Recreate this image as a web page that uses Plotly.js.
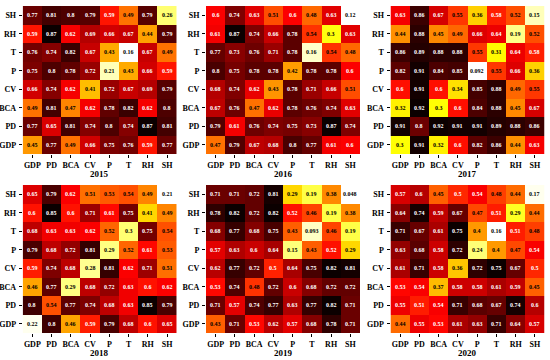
<!DOCTYPE html>
<html><head><meta charset="utf-8">
<script src="https://cdn.plot.ly/plotly-3.0.1.min.js"></script>
<style>html,body{margin:0;padding:0;background:#fff}#chart{width:550px;height:360px}</style>
</head><body><div id="chart"></div>
<script>
const cols = ['GDP','PD','BCA','CV','P','T','RH','SH'];
const rows = ['SH','RH','T','P','CV','BCA','PD','GDP'];
const years = ['2015','2016','2017','2018','2019','2020'];

const z2015 = [
 [0.77,0.81,0.8,0.79,0.59,0.49,0.79,0.26],
 [0.59,0.87,0.62,0.69,0.66,0.67,0.44,0.79],
 [0.76,0.74,0.82,0.67,0.43,0.16,0.67,0.49],
 [0.75,0.8,0.78,0.72,0.21,0.43,0.66,0.59],
 [0.66,0.74,0.62,0.41,0.72,0.67,0.69,0.79],
 [0.49,0.81,0.47,0.62,0.78,0.82,0.62,0.8],
 [0.77,0.65,0.81,0.74,0.8,0.74,0.87,0.81],
 [0.45,0.77,0.49,0.66,0.75,0.76,0.59,0.77]
];
const z2016 = [
 [0.6,0.74,0.63,0.51,0.6,0.48,0.63,0.12],
 [0.61,0.87,0.74,0.66,0.78,0.54,0.3,0.63],
 [0.77,0.73,0.76,0.71,0.78,0.16,0.54,0.48],
 [0.8,0.75,0.78,0.78,0.42,0.78,0.78,0.6],
 [0.68,0.74,0.62,0.43,0.78,0.71,0.66,0.51],
 [0.67,0.76,0.47,0.62,0.78,0.76,0.74,0.63],
 [0.79,0.61,0.76,0.74,0.75,0.73,0.87,0.74],
 [0.47,0.79,0.67,0.68,0.8,0.77,0.61,0.6]
];
const z2017 = [
 [0.63,0.86,0.67,0.55,0.36,0.58,0.52,0.15],
 [0.44,0.88,0.45,0.49,0.66,0.64,0.19,0.52],
 [0.86,0.89,0.88,0.88,0.55,0.31,0.64,0.58],
 [0.82,0.91,0.84,0.85,0.092,0.55,0.66,0.36],
 [0.6,0.91,0.6,0.34,0.85,0.88,0.49,0.55],
 [0.32,0.92,0.3,0.6,0.84,0.88,0.45,0.67],
 [0.91,0.8,0.92,0.91,0.91,0.89,0.88,0.86],
 [0.3,0.91,0.32,0.6,0.82,0.86,0.44,0.63]
];
const z2018 = [
 [0.65,0.79,0.62,0.51,0.53,0.54,0.49,0.21],
 [0.6,0.85,0.6,0.71,0.61,0.75,0.41,0.49],
 [0.68,0.63,0.63,0.62,0.52,0.3,0.75,0.54],
 [0.79,0.68,0.72,0.81,0.29,0.52,0.61,0.53],
 [0.59,0.74,0.68,0.28,0.81,0.62,0.71,0.51],
 [0.46,0.77,0.29,0.68,0.72,0.63,0.6,0.62],
 [0.8,0.54,0.77,0.74,0.68,0.63,0.85,0.79],
 [0.22,0.8,0.46,0.59,0.79,0.68,0.6,0.65]
];
const z2019 = [
 [0.71,0.71,0.72,0.81,0.29,0.19,0.38,0.048],
 [0.78,0.82,0.72,0.82,0.52,0.46,0.19,0.38],
 [0.68,0.77,0.68,0.75,0.43,0.093,0.46,0.19],
 [0.57,0.63,0.6,0.64,0.15,0.43,0.52,0.29],
 [0.62,0.77,0.72,0.5,0.64,0.75,0.82,0.81],
 [0.53,0.74,0.48,0.72,0.6,0.68,0.72,0.72],
 [0.71,0.57,0.74,0.77,0.63,0.77,0.82,0.71],
 [0.43,0.71,0.53,0.62,0.57,0.68,0.78,0.71]
];
const z2020 = [
 [0.57,0.6,0.45,0.5,0.54,0.48,0.44,0.17],
 [0.64,0.74,0.59,0.67,0.47,0.51,0.29,0.44],
 [0.71,0.67,0.61,0.75,0.4,0.16,0.51,0.48],
 [0.63,0.68,0.58,0.72,0.24,0.4,0.47,0.54],
 [0.61,0.71,0.58,0.36,0.72,0.75,0.67,0.5],
 [0.53,0.54,0.37,0.58,0.58,0.61,0.59,0.45],
 [0.55,0.51,0.54,0.71,0.68,0.67,0.74,0.6],
 [0.44,0.55,0.53,0.61,0.63,0.71,0.64,0.57]
];
const panels = [z2015,z2016,z2017,z2018,z2019,z2020];

const hotR = [[0,'rgb(255,255,255)'],[0.253968,'rgb(255,255,0)'],[0.634921,'rgb(255,0,0)'],[1,'rgb(11,0,0)']];
const W = 550, H = 360;
const xDom = [[22.7,176.7],[206,360],[390.5,544.5]].map(d=>[d[0]/W,d[1]/H*0+d[1]/W]);
const yDom = [[6,154],[185,333]].map(d=>[1-d[1]/H,1-d[0]/H]);
const titleY = [174,352.5].map(p=>1-p/H);
const serif = 'Liberation Serif, Times New Roman, serif';

const data = [], annotations = [];
const layout = {width:W,height:H,margin:{l:0,r:0,t:0,b:0},paper_bgcolor:'#fff',plot_bgcolor:'#fff',showlegend:false,annotations:annotations};

panels.forEach((z,i)=>{
  const n = i+1, sfx = n===1?'':String(n);
  const c = i%3, r = Math.floor(i/3);
  const flat = z.flat();
  const mn = Math.min(...flat), mx = Math.max(...flat);
  data.push({type:'heatmap',z:z,x:cols,y:rows,xaxis:'x'+sfx,yaxis:'y'+sfx,colorscale:hotR,zmin:mn,zmax:mx,showscale:false,hoverinfo:'skip',xgap:0,ygap:0});
  const axCommon = {type:'category',showgrid:false,zeroline:false,showline:false,ticks:'outside',ticklen:3,tickwidth:1,tickcolor:'#000',
    tickfont:{family:serif,size:8,color:'#000',weight:'bold'},fixedrange:true};
  layout['xaxis'+sfx] = Object.assign({},axCommon,{domain:xDom[c],anchor:'y'+sfx});
  layout['yaxis'+sfx] = Object.assign({},axCommon,{domain:yDom[r],anchor:'x'+sfx,autorange:'reversed',ticklabelstandoff:1});
  z.forEach((row,ri)=>row.forEach((v,ci)=>{
    const t = (v-mn)/(mx-mn);
    annotations.push({xref:'x'+sfx,yref:'y'+sfx,x:cols[ci],y:rows[ri],text:String(v),showarrow:false,
      font:{family:serif,size:6,color:t>0.565?'#fff':'#000',weight:'bold'}});
  }));
  annotations.push({xref:'paper',yref:'paper',x:(xDom[c][0]+xDom[c][1])/2,y:titleY[r],text:years[i],showarrow:false,
    xanchor:'center',yanchor:'middle',font:{family:serif,size:9,color:'#000',weight:'bold'}});
});

Plotly.newPlot('chart',data,layout,{staticPlot:true,displayModeBar:false});
</script></body></html>
